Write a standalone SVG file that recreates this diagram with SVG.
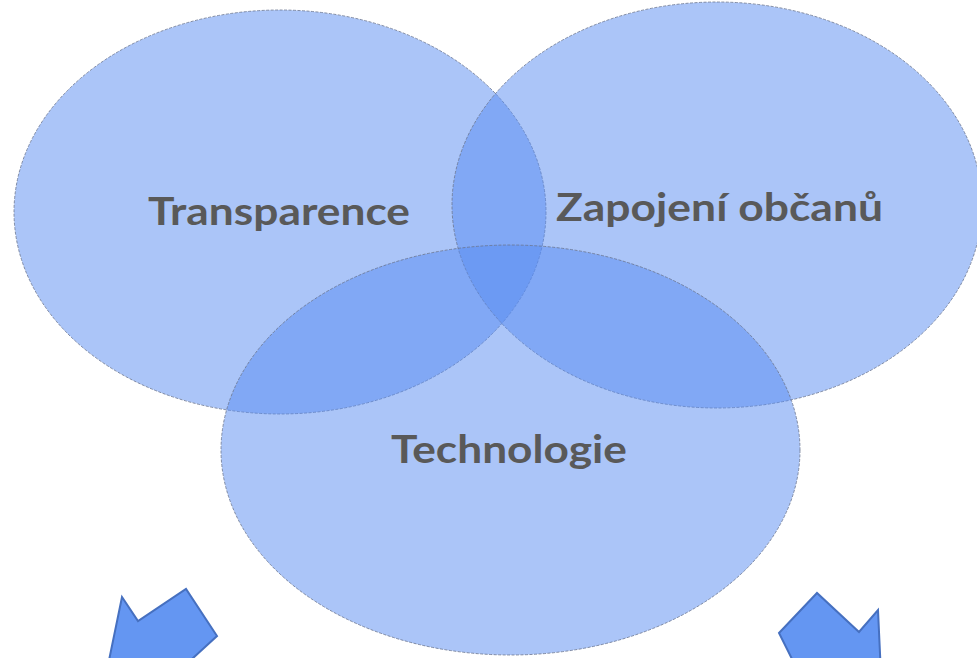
<svg xmlns="http://www.w3.org/2000/svg" width="977" height="658" viewBox="0 0 977 658">
<style>
.circ{fill:#588cf1;fill-opacity:0.5;stroke:#6a7690;stroke-width:1;stroke-dasharray:3 1.5;stroke-opacity:0.8}
.lbl{font-family:Lato,"Open Sans","Liberation Sans",sans-serif;font-weight:bold;font-size:39px;fill:#595959}
.arrow{fill:#6496f2;stroke:#4670c0;stroke-width:2;stroke-linejoin:miter}
</style>
<rect width="977" height="658" fill="#ffffff"/>
<g id="node-transparence">
<ellipse class="circ" cx="280" cy="212" rx="266" ry="202"/>
</g>
<g id="node-zapojeni">
<ellipse class="circ" cx="717" cy="205" rx="265" ry="203"/>
</g>
<g id="node-technologie">
<ellipse class="circ" cx="510.5" cy="450" rx="289.5" ry="205"/>
</g>
<g id="labels">
<text class="lbl" x="148" y="225" textLength="262" lengthAdjust="spacingAndGlyphs">Transparence</text>
<text class="lbl" x="556" y="221" textLength="327" lengthAdjust="spacingAndGlyphs">Zapojení občanů</text>
<text class="lbl" x="391" y="463" textLength="236" lengthAdjust="spacingAndGlyphs">Technologie</text>
</g>
<g id="connectors">
<polygon class="arrow" points="122,597 138,621 186,589 217,636 180,670 106,675"/>
<polygon class="arrow" points="779,633 817,593 859,632 878,610 881,675 800,675 "/>
</g>
</svg>
